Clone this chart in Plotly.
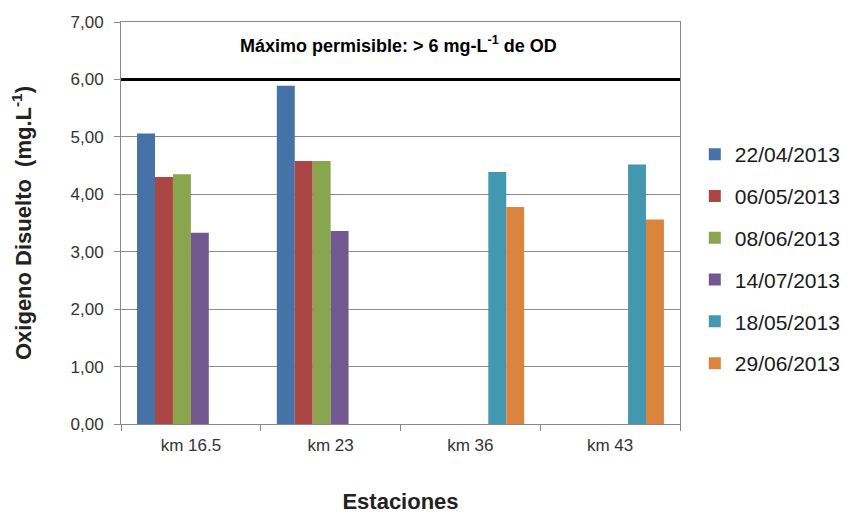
import plotly.graph_objects as go

estaciones = ["km 16.5", "km 23", "km 36", "km 43"]
fechas = ["22/04/2013", "06/05/2013", "08/06/2013", "14/07/2013", "18/05/2013", "29/06/2013"]
s_22_04 = [5.06, 5.89, None, None]
s_06_05 = [4.30, 4.58, None, None]
s_08_06 = [4.35, 4.58, None, None]
s_14_07 = [3.33, 3.36, None, None]
s_18_05 = [None, None, 4.39, 4.52]
s_29_06 = [None, None, 3.78, 3.56]
series = [s_22_04, s_06_05, s_08_06, s_14_07, s_18_05, s_29_06]
colores = ["#4572A7", "#AA4643", "#89A54E", "#71588F", "#4198AF", "#DB843D"]
limite = 6.0
yticks = [0, 1, 2, 3, 4, 5, 6, 7]
ytick_labels = ["0,00", "1,00", "2,00", "3,00", "4,00", "5,00", "6,00", "7,00"]

fig = go.Figure()
for i, (name, vals, col) in enumerate(zip(fechas, series, colores)):
    fig.add_trace(go.Bar(x=estaciones, y=vals, name=name, marker_color=col,
                         marker_line_width=0, legendgroup=str(i)))

fig.add_shape(type="line", xref="paper", x0=0, x1=1, yref="y", y0=limite, y1=limite,
              line=dict(color="black", width=3))

fig.add_annotation(xref="paper", x=0.496, yref="y", y=6.6, showarrow=False,
                   text="<b>Máximo permisible: > 6 mg-L<sup>-1</sup> de OD</b>",
                   font=dict(family="Liberation Sans, Arial", size=18, color="black"))

fig.update_layout(
    width=850, height=506,
    margin=dict(l=113, r=178, t=14, b=90, autoexpand=False),
    paper_bgcolor="white", plot_bgcolor="white",
    barmode="group", bargap=0.23, bargroupgap=0,
    font=dict(family="Liberation Sans, Arial", color="#404040"),
    legend=dict(xref="container", yref="container", x=0.808, xanchor="left", y=0.751, yanchor="top",
                font=dict(size=21, color="#1a1a1a"), tracegroupgap=11.5,
                traceorder="grouped", itemwidth=30),
    xaxis=dict(showline=True, linecolor="#888888", linewidth=1, mirror=True, automargin=False,
               ticks="outside", tickson="boundaries", ticklen=6, tickcolor="#888888",
               ticklabelstandoff=6,
               tickfont=dict(size=17, color="#333333"),
               title=dict(text="<b>Estaciones</b>", font=dict(size=22, color="#222222"), standoff=39)),
    yaxis=dict(range=[0, 7], tickvals=yticks, ticktext=ytick_labels, automargin=False,
               showline=True, linecolor="#888888", linewidth=1, mirror=True,
               ticks="outside", ticklen=6, tickcolor="#888888", ticklabelstandoff=7,
               showgrid=True, gridcolor="#8c8c8c", gridwidth=1,
               tickfont=dict(size=17, color="#333333"),
               title=dict(text="<b>Oxigeno Disuelto  (mg.L<sup>-1</sup>)</b>", font=dict(size=22, color="#222222"), standoff=33)),
)

fig.write_html("out.html")
